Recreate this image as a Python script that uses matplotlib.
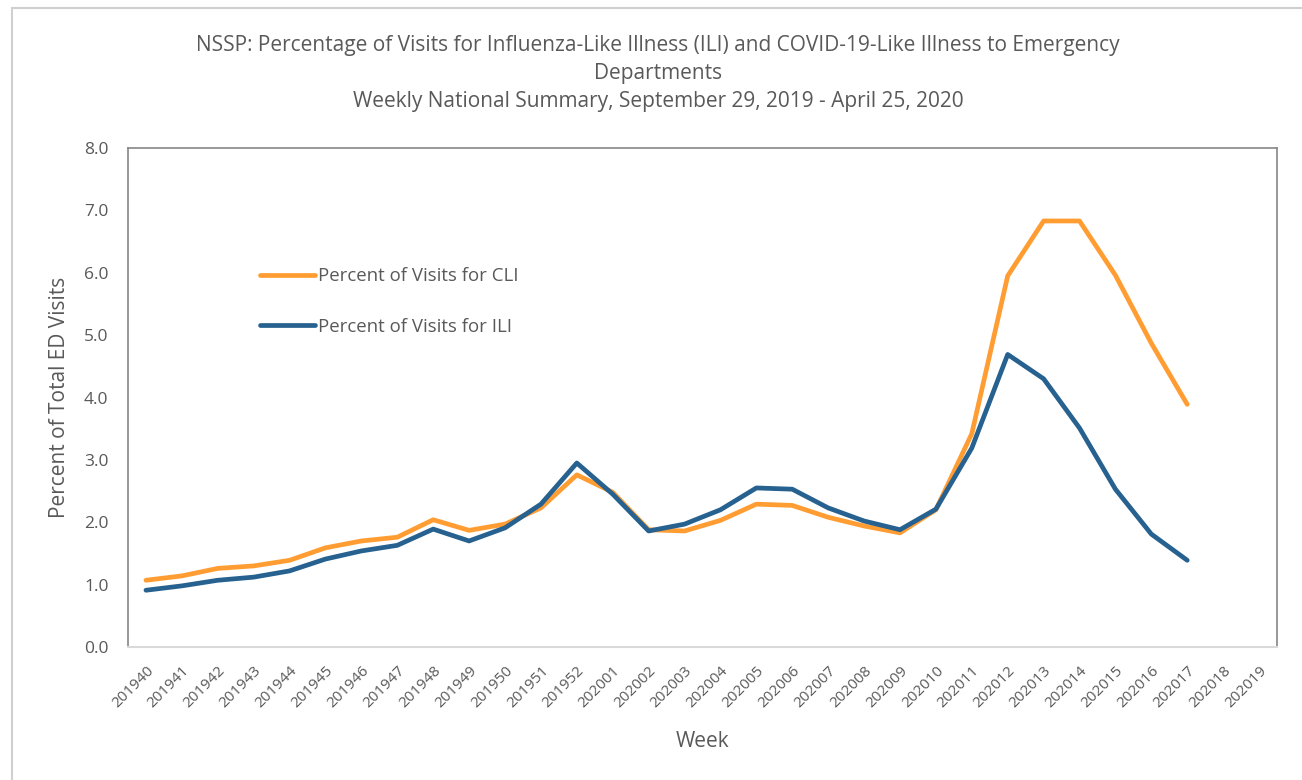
import matplotlib
matplotlib.use("Agg")
import matplotlib.pyplot as plt
import matplotlib.patches as mpatches
import numpy as np

plt.rcParams["font.family"] = ["Open Sans", "DejaVu Sans"]

# ─── data ────────────────────────────────────────────────
weeks = [
    "201940", "201941", "201942", "201943", "201944", "201945", "201946",
    "201947", "201948", "201949", "201950", "201951", "201952",
    "202001", "202002", "202003", "202004", "202005", "202006", "202007",
    "202008", "202009", "202010", "202011", "202012", "202013", "202014",
    "202015", "202016", "202017", "202018", "202019",
]
cli_pct = [
    1.07, 1.14, 1.26, 1.30, 1.39, 1.59, 1.70, 1.76, 2.04, 1.87, 1.97, 2.23, 2.76,
    2.48, 1.88, 1.86, 2.03, 2.29, 2.27, 2.08, 1.94, 1.83, 2.20, 3.42, 5.95,
    6.83, 6.83, 5.96, 4.87, 3.89,
]
ili_pct = [
    0.91, 0.98, 1.07, 1.12, 1.22, 1.41, 1.54, 1.63, 1.89, 1.70, 1.91, 2.29, 2.95,
    2.45, 1.86, 1.97, 2.20, 2.55, 2.53, 2.23, 2.02, 1.88, 2.21, 3.19, 4.69,
    4.30, 3.51, 2.53, 1.81, 1.39,
]
yticks = [0.0, 1.0, 2.0, 3.0, 4.0, 5.0, 6.0, 7.0, 8.0]
# ─────────────────────────────────────────────────────────

TXT = "#595959"
ORANGE = "#FF9D33"
BLUE = "#26618F"
W, H = 1302, 780

fig = plt.figure(figsize=(W / 100, H / 100), dpi=100)
fig.patch.set_facecolor("white")

# outer chart border (excel style), right/bottom run off the picture
fig.patches.append(mpatches.Rectangle(
    (12 / W, -0.1), 1.2, (H - 8) / H + 0.1,
    transform=fig.transFigure, facecolor="none",
    edgecolor="#d0d0d0", linewidth=1.5))

ax = fig.add_axes([128 / W, 133 / H, 1149 / W, 499 / H])

x = np.arange(len(weeks))
ax.plot(x[:len(cli_pct)], cli_pct, color=ORANGE, linewidth=3.4,
        solid_capstyle="round", solid_joinstyle="round",
        label="Percent of Visits for CLI", zorder=3)
ax.plot(x[:len(ili_pct)], ili_pct, color=BLUE, linewidth=3.4,
        solid_capstyle="round", solid_joinstyle="round",
        label="Percent of Visits for ILI", zorder=4)

ax.set_xlim(-0.5, len(weeks) - 0.5)
ax.set_ylim(0, 8)
ax.set_yticks(yticks)
ax.set_yticklabels([f"{v:.1f}" for v in yticks], color=TXT, fontsize=12.5)
ax.set_xticks(x)
ax.set_xticklabels(weeks, rotation=45, ha="right", rotation_mode="anchor",
                   color=TXT, fontsize=11)
ax.tick_params(axis="both", length=0)
ax.tick_params(axis="y", pad=14)
ax.tick_params(axis="x", pad=12)

for side in ["left", "top", "right"]:
    ax.spines[side].set_color("#868686")
    ax.spines[side].set_linewidth(1.2)
ax.spines["bottom"].set_color("#d9d9d9")
ax.spines["bottom"].set_linewidth(1.5)

ax.set_ylabel("Percent of Total ED Visits", color=TXT, fontsize=15, labelpad=10)
ax.set_xlabel("Week", color=TXT, fontsize=15, labelpad=14)

leg = ax.legend(loc="upper left", bbox_to_anchor=(0.100, 0.795), frameon=False,
                fontsize=13.4, labelspacing=1.75, handlelength=3.0,
                handletextpad=0.15, labelcolor=TXT)

title_lines = [
    "NSSP: Percentage of Visits for Influenza-Like Illness (ILI) and "
    "COVID-19-Like Illness to Emergency",
    "Departments",
    "Weekly National Summary, September 29, 2019 - April 25, 2020",
]
for line, ty in zip(title_lines, [45, 73, 102]):
    fig.text(658 / W, 1 - ty / H, line, ha="center", va="center",
             color=TXT, fontsize=15)

plt.savefig("out.png", dpi=100, facecolor="white")
plt.close()
